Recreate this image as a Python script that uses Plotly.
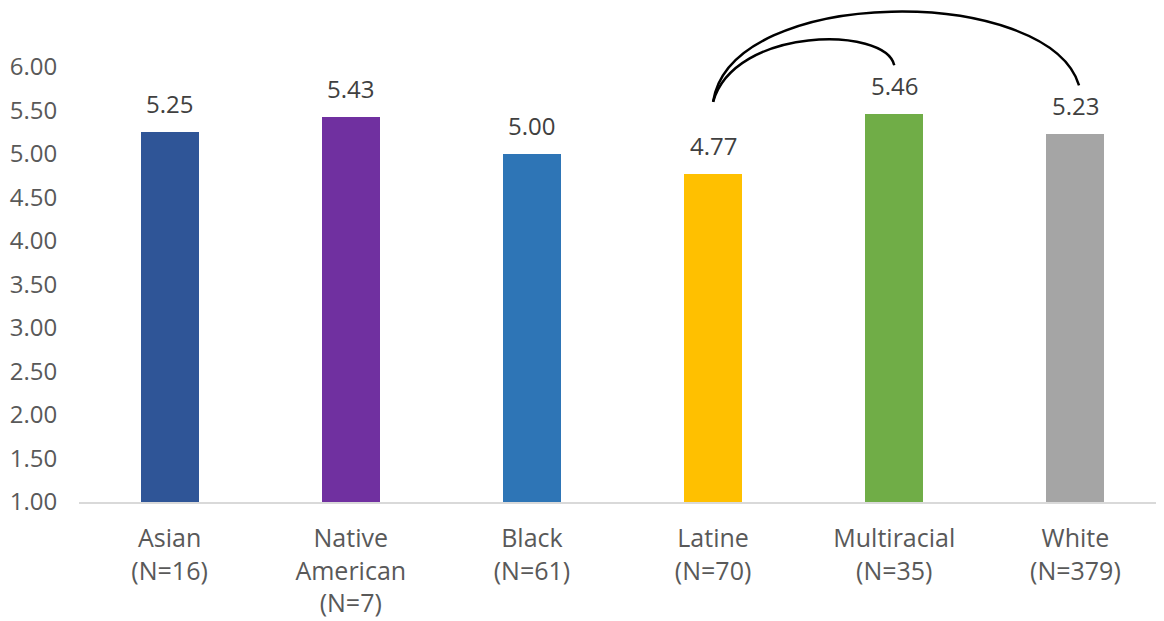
import plotly.graph_objects as go

categories = ["Asian", "Native<br>American", "Black", "Latine", "Multiracial", "White"]
sample_sizes = ["16", "7", "61", "70", "35", "379"]
values = [5.25, 5.43, 5.00, 4.77, 5.46, 5.23]
colors = ["#2F5597", "#7030A0", "#2E75B6", "#FFC000", "#70AD47", "#A5A5A5"]
y_ticks = [1.0, 1.5, 2.0, 2.5, 3.0, 3.5, 4.0, 4.5, 5.0, 5.5, 6.0]

x = list(range(len(categories)))
ticktext = [f"{c}<br>(N={n})" for c, n in zip(categories, sample_sizes)]

FONT = "Open Sans"
BASE = 1.0

fig = go.Figure()
fig.add_trace(go.Bar(
    x=x,
    y=[v - BASE for v in values],
    base=BASE,
    marker=dict(color=colors, line=dict(width=0)),
    width=0.32,
    hoverinfo="skip",
))

for xi, v in zip(x, values):
    fig.add_annotation(
        x=xi, y=v, xref="x", yref="y", text=f"{v:.2f}",
        showarrow=False, yanchor="bottom", yshift=10,
        font=dict(family=FONT, size=24, color="#404040"),
    )

# comparison arcs from Latine to Multiracial and White
li, mi, wi = 3, 4, 5
s = (li, values[li] + 0.83)
e1 = (mi, values[mi] + 0.56)
e2 = (wi + 0.02, values[wi] + 0.56)
path1 = (f"M {s[0]},{s[1]} C {s[0]+0.12},{s[1]+0.87} {mi-0.05},{s[1]+0.87} {e1[0]},{e1[1]}")
path2 = (f"M {s[0]},{s[1]} C {s[0]+0.1},{s[1]+1.35} {wi-0.15},{s[1]+1.35} {e2[0]},{e2[1]}")
for p in (path1, path2):
    fig.add_shape(type="path", path=p, xref="x", yref="y",
                  line=dict(color="black", width=2.5))

fig.update_layout(
    width=1164, height=621,
    margin=dict(l=71, r=6, t=2, b=127),
    paper_bgcolor="white", plot_bgcolor="white",
    showlegend=False,
    font=dict(family=FONT, size=24, color="#595959"),
    bargap=0,
)
fig.update_xaxes(
    range=[-0.5, 5.5], tickvals=x, ticktext=ticktext,
    showgrid=False, zeroline=False, automargin=False,
    showline=True, linecolor="#D9D9D9", linewidth=2,
    ticks="outside", ticklen=13, tickcolor="rgba(0,0,0,0)",
    tickfont=dict(family=FONT, size=25, color="#595959"),
)
fig.update_yaxes(
    range=[1.0, 1.0 + 492 / 87], tickvals=y_ticks, ticktext=[f"{t:.2f}" for t in y_ticks],
    showgrid=False, zeroline=False, showline=False, automargin=False,
    ticks="outside", ticklen=16, tickcolor="rgba(0,0,0,0)",
    tickfont=dict(family=FONT, size=24, color="#595959"),
)

fig.write_html("out.html")
